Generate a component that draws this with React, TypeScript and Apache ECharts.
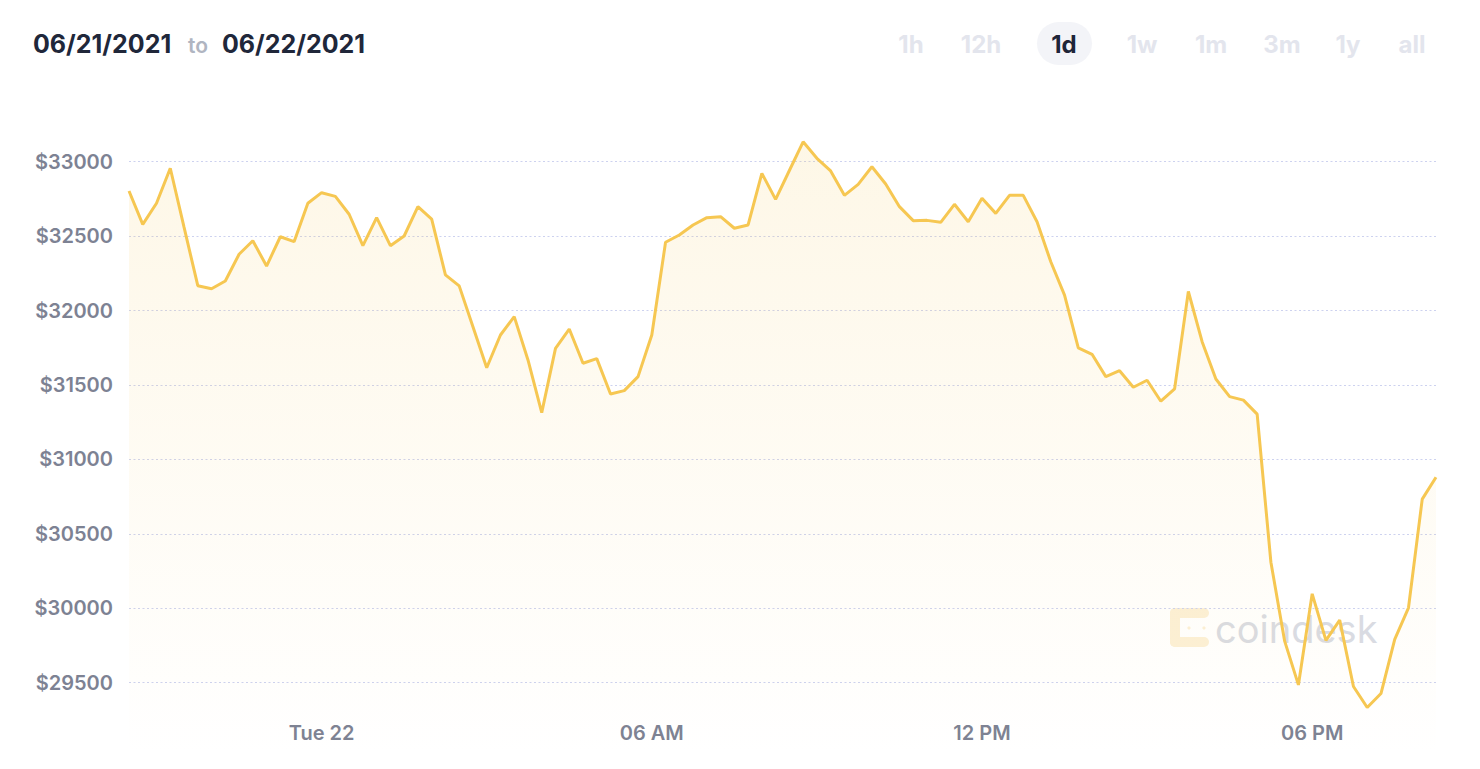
import React, { useEffect, useRef } from "react";
import * as echarts from "echarts";

// ---- data ----
const startHour = 20;
const startMinute = 30;
const stepMinutes = 15;

const prices: number[] = [
  32803, 32579, 32721, 32956, 32560, 32167, 32147, 32199, 32378, 32469,
  32299, 32496, 32463, 32721, 32792, 32767, 32647, 32436, 32624, 32436,
  32501, 32698, 32615, 32240, 32166, 31891, 31616, 31836, 31959, 31668,
  31314, 31746, 31876, 31646, 31677, 31439, 31462, 31556, 31836, 32459,
  32508, 32575, 32624, 32631, 32553, 32575, 32922, 32747, 32941, 33134,
  33023, 32938, 32774, 32848, 32966, 32850, 32698, 32604, 32606, 32593,
  32714, 32597, 32754, 32653, 32774, 32774, 32597, 32328, 32104, 31750,
  31706, 31556, 31596, 31485, 31532, 31391, 31474, 32128, 31791, 31540,
  31422, 31398, 31304, 30309, 29779, 29485, 30097, 29784, 29920, 29474,
  29333, 29427, 29791, 30003, 30733, 30880,
];

const pad = (n: number) => (n < 10 ? "0" + n : "" + n);
const categories: string[] = prices.map((_, i) => {
  const total = startHour * 60 + startMinute + i * stepMinutes;
  const h = Math.floor(total / 60) % 24;
  const m = total % 60;
  return pad(h) + ":" + pad(m);
});

const xTickLabels: Record<string, string> = {
  "00:00": "Tue 22",
  "06:00": "06 AM",
  "12:00": "12 PM",
  "18:00": "06 PM",
};

const yMin = 29000;
const yMax = 33500;
const yStep = 500;

const rangeFrom = "06/21/2021";
const rangeTo = "06/22/2021";
const rangeButtons = ["1h", "12h", "1d", "1w", "1m", "3m", "1y", "all"];
const activeButton = "1d";
const buttonCenters = [911, 981, 1064, 1142, 1211, 1282, 1348, 1412];

const FONT = "Inter, 'Noto Sans', sans-serif";

export default function App() {
  const ref = useRef<HTMLDivElement>(null);

  useEffect(() => {
    if (!ref.current) return;
    const chart = echarts.init(ref.current, undefined, { renderer: "svg" });

    const graphics: any[] = [
      {
        type: "text",
        x: 33,
        y: 44,
        style: {
          text: rangeFrom,
          font: `700 25px ${FONT}`,
          fill: "#20273a",
          verticalAlign: "middle",
        },
      },
      {
        type: "text",
        x: 188,
        y: 45,
        style: {
          text: "to",
          font: `600 21px ${FONT}`,
          fill: "#b0b5c1",
          verticalAlign: "middle",
        },
      },
      {
        type: "text",
        x: 222,
        y: 44,
        style: {
          text: rangeTo,
          font: `700 25px ${FONT}`,
          fill: "#20273a",
          verticalAlign: "middle",
        },
      },
      {
        type: "rect",
        shape: { x: 1037, y: 22, width: 55, height: 43, r: 21.5 },
        style: { fill: "#f3f4f8" },
      },
      ...rangeButtons.map((b, i) => ({
        type: "text",
        x: buttonCenters[i],
        y: 44,
        style: {
          text: b,
          font: `700 24px ${FONT}`,
          fill: b === activeButton ? "#1e2538" : "#e3e5ed",
          align: "center",
          verticalAlign: "middle",
        },
      })),
      // watermark logo
      {
        type: "group",
        z: 0,
        children: [
          { type: "rect", shape: { x: 1170, y: 608, width: 39, height: 10, r: 5 }, style: { fill: "#fcf0d6" } },
          { type: "rect", shape: { x: 1170, y: 637, width: 39, height: 10, r: 5 }, style: { fill: "#fcf0d6" } },
          { type: "rect", shape: { x: 1170, y: 608, width: 10, height: 39, r: 5 }, style: { fill: "#fcf0d6" } },
          { type: "circle", shape: { cx: 1189, cy: 628, r: 1.6 }, style: { fill: "#fcf0d6" } },
          { type: "circle", shape: { cx: 1204, cy: 628, r: 1.6 }, style: { fill: "#fcf0d6" } },
          { type: "circle", shape: { cx: 1204, cy: 642, r: 1.6 }, style: { fill: "#fcf0d6" } },
        ],
      },
      {
        type: "text",
        x: 1215,
        y: 629,
        z: 0,
        style: {
          text: "coindesk",
          font: `400 38px ${FONT}`,
          fill: "#d9dbe2",
          verticalAlign: "middle",
        },
      },
    ];

    chart.setOption({
      animation: false,
      grid: { left: 129, right: 44, top: 87.3, bottom: 11.9, containLabel: false },
      xAxis: {
        type: "category",
        data: categories,
        boundaryGap: false,
        axisLine: { show: false },
        axisTick: { show: false },
        splitLine: { show: false },
        axisLabel: {
          interval: (_idx: number, value: string) => value in xTickLabels,
          formatter: (value: string) => xTickLabels[value] || "",
          color: "#7d8293",
          fontFamily: FONT,
          fontSize: 20,
          fontWeight: 600,
          margin: -34,
        },
      },
      yAxis: {
        type: "value",
        min: yMin,
        max: yMax,
        interval: yStep,
        axisLine: { show: false },
        axisTick: { show: false },
        axisLabel: {
          formatter: (v: number) => (v === yMin || v === yMax ? "" : "$" + v),
          color: "#7d8293",
          fontFamily: FONT,
          fontSize: 20,
          fontWeight: 600,
          margin: 16,
        },
        splitLine: {
          show: true,
          showMinLine: false,
          showMaxLine: false,
          lineStyle: { color: "#cdd2ef", width: 1.2, type: [2, 2.5] },
        },
      },
      graphic: graphics,
      series: [
        {
          type: "line",
          data: prices,
          symbol: "none",
          z: 3,
          lineStyle: { color: "#f6c752", width: 3 },
          areaStyle: {
            origin: "start",
            color: new echarts.graphic.LinearGradient(0, 0, 0, 1, [
              { offset: 0, color: "rgba(246,199,82,0.2)" },
              { offset: 1, color: "rgba(246,199,82,0)" },
            ]),
          },
        },
      ],
    });

    return () => chart.dispose();
  }, []);

  return (
    <div
      ref={ref}
      style={{ position: "absolute", left: 0, top: 0, width: 1480, height: 769 }}
    />
  );
}
